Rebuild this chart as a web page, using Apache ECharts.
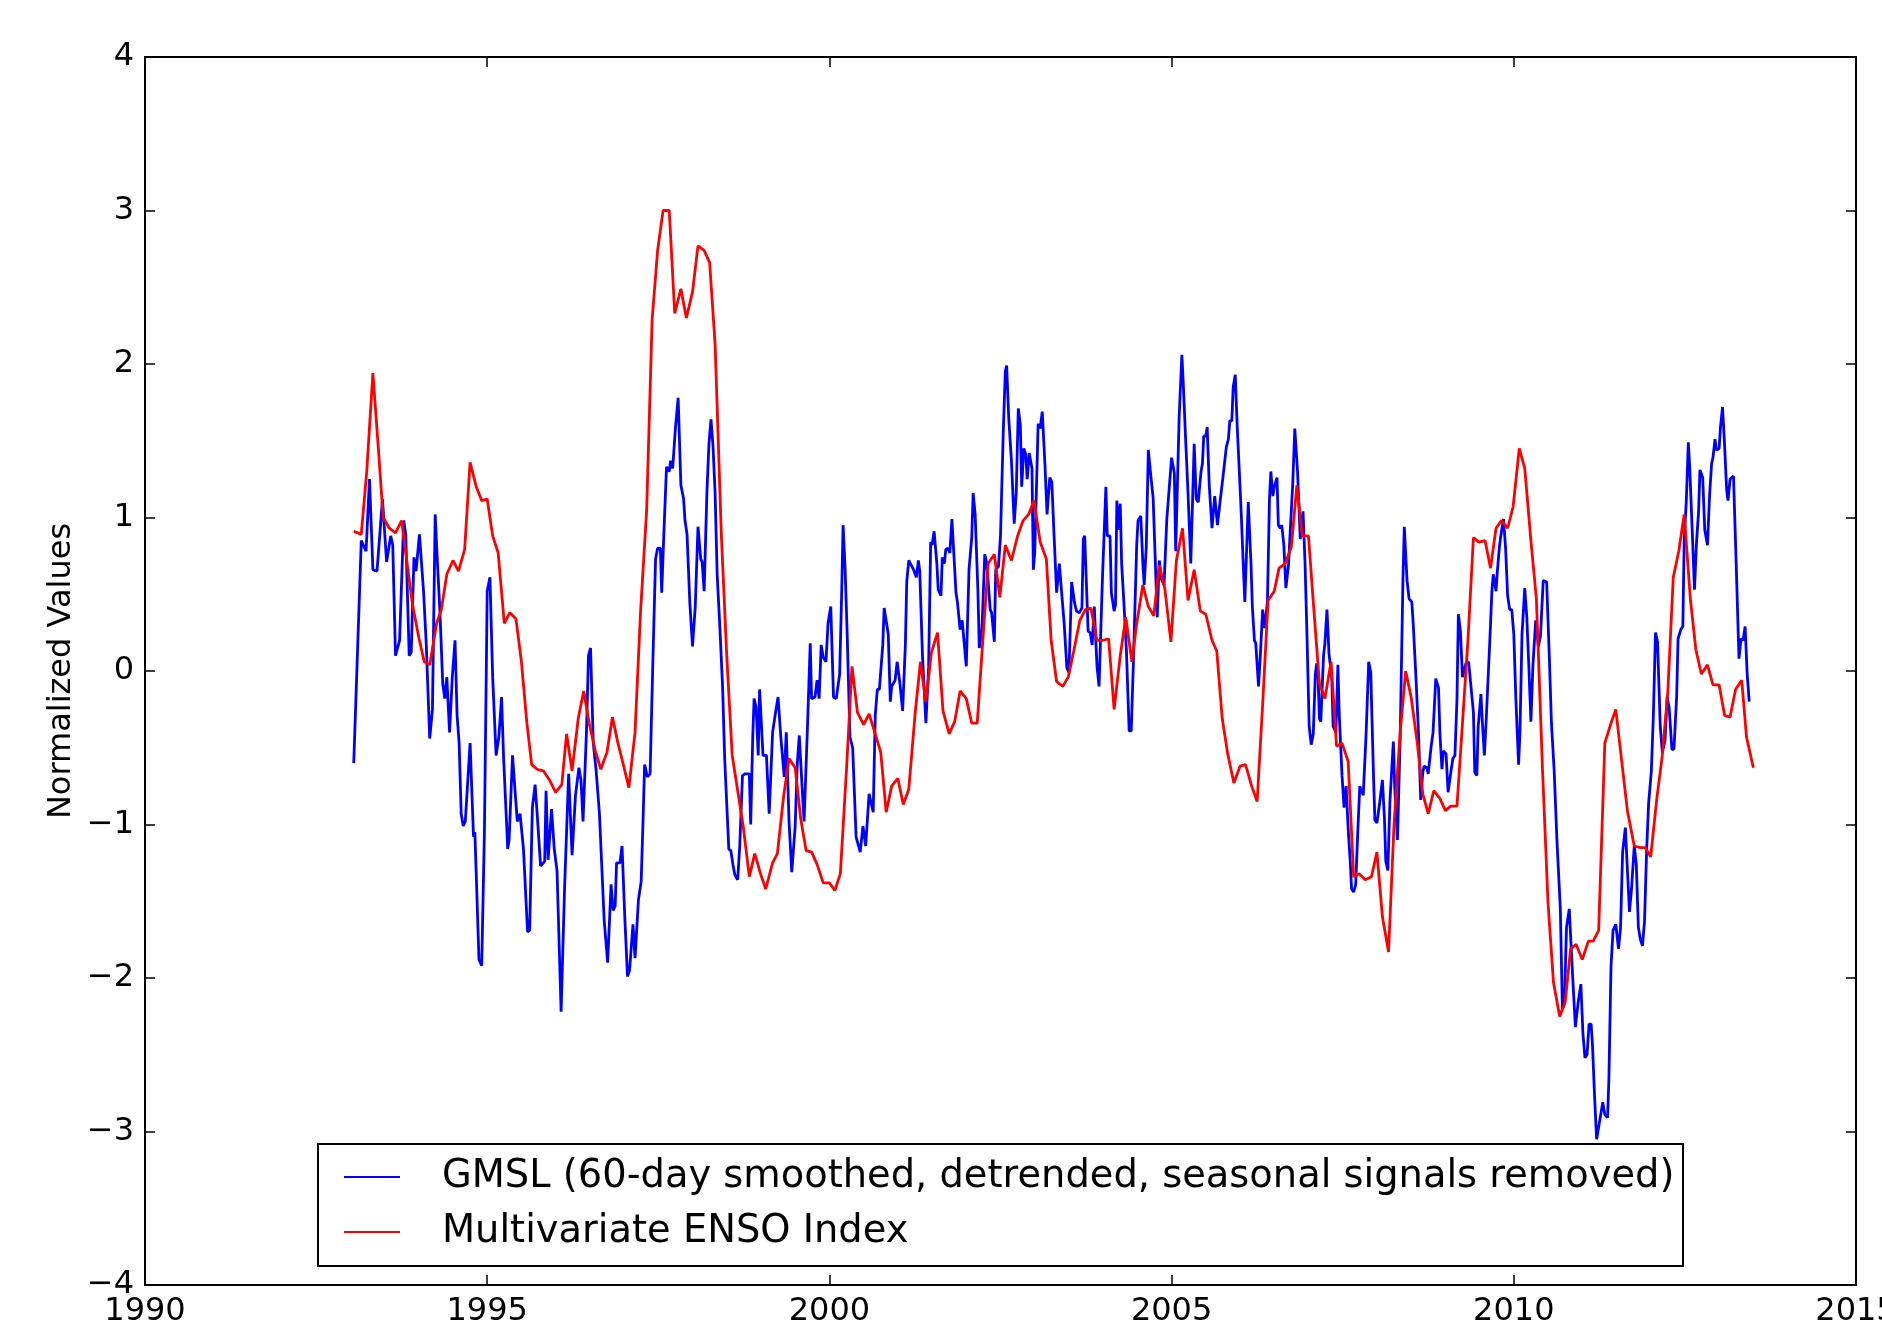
<!DOCTYPE html>
<html>
<head>
<meta charset="utf-8">
<script src="https://cdn.jsdelivr.net/npm/echarts@6/dist/echarts.min.js"></script>
<style>
html,body{margin:0;padding:0;background:#fff;overflow:hidden;width:1882px;height:1340px;}
#chart{width:1882px;height:1340px;position:absolute;left:0;top:0;}
</style>
</head>
<body>
<div id="chart"></div>
<script>
// ---- Data ----
var gmslName = 'GMSL (60-day smoothed, detrended, seasonal signals removed)';
var meiName = 'Multivariate ENSO Index';

var gmslYears = [
1993.05,1993.16,1993.23,1993.28,1993.33,1993.39,1993.47,1993.53,1993.59,1993.62,1993.66,1993.72,1993.78,1993.81,1993.86,1993.89,1993.93,1993.96,
1994.01,1994.07,1994.11,1994.16,1994.20,1994.24,1994.27,1994.31,1994.35,1994.38,1994.41,1994.45,1994.49,1994.53,1994.56,1994.59,1994.62,1994.65,1994.68,1994.75,1994.80,1994.82,1994.88,1994.92,1994.96,
1995.00,1995.04,1995.08,1995.13,1995.17,1995.21,1995.24,1995.30,1995.32,1995.37,1995.41,1995.44,1995.48,1995.53,1995.59,1995.62,1995.66,1995.70,1995.73,1995.78,1995.84,1995.86,1995.89,1995.94,1995.98,
1996.02,1996.08,1996.13,1996.19,1996.24,1996.29,1996.34,1996.37,1996.40,1996.45,1996.48,1996.51,1996.55,1996.59,1996.64,1996.71,1996.76,1996.81,1996.84,1996.87,1996.89,1996.94,1996.97,
1997.01,1997.05,1997.08,1997.13,1997.16,1997.21,1997.25,1997.28,1997.30,1997.34,1997.38,1997.42,1997.46,1997.49,1997.53,1997.55,1997.58,1997.62,1997.66,1997.68,1997.71,1997.75,1997.79,1997.83,1997.87,1997.89,1997.92,1997.96,
1998.00,1998.04,1998.08,1998.12,1998.14,1998.17,1998.21,1998.24,1998.27,1998.30,1998.33,1998.36,1998.40,1998.44,1998.47,1998.53,1998.56,1998.59,1998.62,1998.66,1998.69,1998.73,1998.77,1998.83,1998.85,1998.88,1998.90,1998.93,1998.96,1998.98,
1999.03,1999.08,1999.12,1999.17,1999.22,1999.25,1999.29,1999.34,1999.37,1999.41,1999.45,1999.50,1999.53,1999.56,1999.60,1999.63,1999.68,1999.72,1999.74,1999.79,1999.82,1999.85,1999.88,1999.91,1999.95,1999.98,
2000.02,2000.06,2000.10,2000.15,2000.18,2000.20,2000.23,2000.26,2000.30,2000.34,2000.39,2000.45,2000.49,2000.51,2000.53,2000.58,2000.64,2000.67,2000.70,2000.73,2000.78,2000.80,2000.86,2000.89,2000.91,2000.96,2000.99,
2001.03,2001.07,2001.11,2001.13,2001.16,2001.23,2001.27,2001.30,2001.32,2001.36,2001.41,2001.45,2001.48,2001.50,2001.53,2001.57,2001.59,2001.63,2001.65,2001.68,2001.70,2001.73,2001.76,2001.79,2001.81,2001.85,2001.87,2001.91,2001.94,
2002.00,2002.04,2002.08,2002.10,2002.13,2002.17,2002.19,2002.23,2002.27,2002.30,2002.35,2002.37,2002.41,2002.43,2002.47,2002.50,2002.54,2002.57,2002.59,2002.62,2002.66,2002.70,2002.73,2002.76,2002.79,2002.81,2002.84,2002.87,2002.89,2002.92,2002.96,2002.98,
2003.00,2003.05,2003.08,2003.11,2003.15,2003.18,2003.22,2003.25,2003.28,2003.32,2003.36,2003.39,2003.43,2003.47,2003.50,2003.54,2003.58,2003.61,2003.65,2003.69,2003.71,2003.73,2003.78,2003.81,2003.84,2003.87,2003.91,2003.94,2003.99,
2004.04,2004.06,2004.10,2004.12,2004.16,2004.18,2004.20,2004.22,2004.25,2004.27,2004.30,2004.34,2004.38,2004.41,2004.44,2004.49,2004.51,2004.55,2004.58,2004.60,2004.63,2004.66,2004.69,2004.73,2004.76,2004.79,2004.82,2004.85,2004.89,2004.93,2004.95,
2005.00,2005.04,2005.06,2005.08,2005.11,2005.15,2005.17,2005.20,2005.22,2005.24,2005.28,2005.33,2005.36,2005.39,2005.43,2005.45,2005.47,2005.50,2005.52,2005.55,2005.59,2005.63,2005.67,2005.71,2005.76,2005.80,2005.83,2005.85,2005.88,2005.90,2005.93,2005.96,
2006.00,2006.02,2006.05,2006.07,2006.12,2006.16,2006.18,2006.21,2006.23,2006.27,2006.30,2006.33,2006.36,2006.40,2006.43,2006.45,2006.48,2006.50,2006.54,2006.56,2006.59,2006.61,2006.64,2006.67,2006.71,2006.73,2006.77,2006.80,2006.84,2006.88,2006.92,2006.95,2006.98,
2007.01,2007.04,2007.07,2007.10,2007.12,2007.14,2007.16,2007.18,2007.22,2007.24,2007.27,2007.30,2007.34,2007.36,2007.40,2007.43,2007.45,2007.49,2007.52,2007.55,2007.58,2007.61,2007.63,2007.66,2007.69,2007.72,2007.75,2007.80,2007.84,2007.88,2007.91,2007.95,2007.97,
2008.00,2008.04,2008.08,2008.11,2008.13,2008.16,2008.19,2008.24,2008.26,2008.30,2008.34,2008.38,2008.40,2008.44,2008.47,2008.51,2008.53,2008.57,2008.61,2008.64,2008.67,2008.69,2008.73,2008.75,2008.79,2008.82,2008.86,2008.90,2008.92,2008.95,2008.97,
2009.01,2009.04,2009.08,2009.11,2009.14,2009.17,2009.19,2009.22,2009.25,2009.27,2009.30,2009.34,2009.37,2009.41,2009.43,2009.46,2009.48,2009.52,2009.54,2009.57,2009.60,2009.63,2009.65,2009.68,2009.70,2009.74,2009.76,2009.79,2009.81,2009.85,2009.88,2009.91,2009.94,2009.97,
2010.00,2010.03,2010.07,2010.09,2010.12,2010.16,2010.19,2010.22,2010.25,2010.28,2010.32,2010.36,2010.39,2010.43,2010.48,2010.52,2010.55,2010.59,2010.63,2010.68,2010.71,2010.74,2010.77,2010.81,2010.83,2010.86,2010.90,2010.94,2010.98,
2011.01,2011.04,2011.07,2011.10,2011.13,2011.15,2011.18,2011.21,2011.24,2011.27,2011.30,2011.33,2011.37,2011.39,2011.42,2011.45,2011.49,2011.53,2011.56,2011.59,2011.63,2011.65,2011.69,2011.72,2011.76,2011.79,2011.82,2011.85,2011.88,2011.91,2011.94,2011.97,2011.99,
2012.01,2012.04,2012.07,2012.10,2012.14,2012.17,2012.21,2012.24,2012.27,2012.31,2012.34,2012.38,2012.40,2012.44,2012.47,2012.49,2012.52,2012.55,2012.57,2012.61,2012.64,2012.67,2012.70,2012.72,2012.76,2012.79,2012.83,2012.86,2012.89,2012.91,2012.94,2012.96,
2013.00,2013.02,2013.05,2013.08,2013.11,2013.13,2013.16,2013.21,2013.25,2013.29,2013.32,2013.35,2013.38,2013.41,2013.44
];
var gmslValues = [
-0.60,0.85,0.78,1.25,0.66,0.65,1.12,0.71,0.88,0.82,0.10,0.20,0.98,0.89,0.10,0.12,0.74,0.65,
0.89,0.52,0.17,-0.44,-0.25,1.02,0.73,0.38,-0.08,-0.18,-0.04,-0.40,-0.04,0.20,-0.29,-0.47,-0.93,-1.01,-0.98,-0.47,-1.08,-1.05,-1.88,-1.92,-1.03,
0.52,0.61,-0.04,-0.55,-0.43,-0.17,-0.57,-1.16,-1.10,-0.55,-0.80,-0.98,-0.93,-1.16,-1.70,-1.69,-0.89,-0.74,-0.93,-1.27,-1.24,-0.78,-1.23,-0.90,-1.16,
-1.30,-2.22,-1.42,-0.67,-1.20,-0.81,-0.63,-0.71,-0.98,-0.40,0.10,0.15,-0.47,-0.64,-0.93,-1.63,-1.90,-1.39,-1.56,-1.53,-1.25,-1.25,-1.14,
-1.60,-1.99,-1.95,-1.65,-1.87,-1.49,-1.37,-0.93,-0.61,-0.69,-0.67,0.05,0.73,0.80,0.80,0.51,0.88,1.33,1.30,1.37,1.32,1.58,1.78,1.21,1.12,0.98,0.89,0.45,
0.16,0.42,0.94,0.73,0.71,0.52,1.16,1.48,1.64,1.46,1.16,0.63,0.28,-0.11,-0.57,-1.16,-1.17,-1.26,-1.33,-1.36,-1.14,-0.68,-0.67,-0.67,-1.00,-0.43,-0.18,-0.24,-0.55,-0.12,
-0.55,-0.55,-0.93,-0.40,-0.25,-0.17,-0.43,-0.69,-0.40,-0.98,-1.31,-1.01,-0.61,-0.42,-0.75,-0.98,-0.36,0.18,-0.18,-0.17,-0.06,-0.18,0.17,0.09,0.06,0.31,
0.42,-0.17,-0.18,-0.02,0.52,0.95,0.66,0.24,-0.43,-0.50,-1.08,-1.18,-1.01,-1.01,-1.14,-0.80,-0.92,-0.29,-0.12,-0.12,0.17,0.41,0.24,-0.20,-0.10,-0.06,0.06,
-0.08,-0.26,0.17,0.58,0.72,0.66,0.61,0.72,0.65,0.10,-0.34,0.03,0.84,0.82,0.91,0.70,0.53,0.49,0.74,0.70,0.79,0.80,0.77,0.99,1.00,0.51,0.45,0.27,0.33,
0.03,0.66,0.87,1.16,1.02,0.52,0.15,0.28,0.76,0.70,0.40,0.38,0.19,0.66,0.68,0.88,1.55,1.95,1.99,1.65,1.37,0.96,1.16,1.71,1.60,1.20,1.45,1.41,1.25,1.42,1.32,0.66,
0.77,1.61,1.58,1.69,1.34,1.02,1.26,1.23,0.91,0.51,0.70,0.53,0.31,0.02,-0.01,0.58,0.45,0.39,0.38,0.41,0.86,0.88,0.26,0.25,0.17,0.42,0.03,-0.10,0.61,
1.20,0.88,0.88,0.51,0.39,0.43,1.11,0.92,1.09,0.70,0.47,0.13,-0.39,-0.39,0.03,0.82,0.98,1.01,0.70,0.56,0.81,1.44,1.30,1.13,0.74,0.35,0.72,0.60,0.56,0.99,1.00,
1.39,1.29,0.78,0.78,1.65,2.06,1.88,1.56,1.56,1.16,0.70,1.48,1.12,1.10,1.30,1.35,1.53,1.53,1.59,1.21,0.93,1.14,0.95,1.11,1.30,1.46,1.51,1.63,1.63,1.85,1.93,1.58,
1.20,1.00,0.66,0.45,1.10,0.70,0.42,0.20,0.18,-0.10,0.13,0.40,0.28,0.45,1.12,1.30,1.14,1.20,1.26,0.95,0.93,0.95,0.82,0.54,0.70,0.88,1.22,1.58,1.30,0.86,1.04,0.70,0.20,
-0.36,-0.48,-0.41,-0.02,0.05,-0.04,-0.31,-0.33,0.10,0.18,0.40,0.11,-0.04,-0.36,-0.40,0.04,-0.29,-0.68,-0.89,-0.75,-1.03,-1.24,-1.42,-1.44,-1.39,-1.05,-0.75,-0.81,-0.43,0.06,-0.01,-0.68,-0.97,
-0.99,-0.86,-0.71,-0.96,-1.24,-1.30,-0.85,-0.46,-0.75,-1.10,-0.43,0.59,0.94,0.59,0.47,0.45,0.31,-0.04,-0.43,-0.84,-0.66,-0.62,-0.63,-0.67,-0.50,-0.40,-0.05,-0.11,-0.40,-0.64,-0.52,
-0.54,-0.79,-0.66,-0.57,-0.55,-0.18,0.37,0.26,-0.04,-0.04,0.05,0.06,-0.08,-0.27,-0.66,-0.68,-0.36,-0.15,-0.33,-0.55,-0.29,0.01,0.20,0.52,0.63,0.52,0.65,0.81,0.88,0.99,0.80,0.49,0.40,0.40,
0.24,-0.18,-0.61,-0.40,0.24,0.54,0.35,0.03,-0.33,0.04,0.33,0.16,0.23,0.59,0.58,0.08,-0.34,-0.65,-1.10,-1.55,-2.20,-2.16,-1.67,-1.55,-1.56,-1.99,-2.32,-2.16,-2.04,
-2.36,-2.52,-2.50,-2.30,-2.30,-2.44,-2.77,-3.05,-2.97,-2.89,-2.81,-2.89,-2.91,-2.65,-1.93,-1.69,-1.65,-1.81,-1.67,-1.18,-1.02,-1.03,-1.57,-1.42,-1.14,-1.26,-1.67,-1.75,-1.79,-1.63,-1.18,-0.86,-0.86,
-0.65,-0.28,0.25,0.19,-0.36,-0.53,-0.45,-0.17,-0.24,-0.51,-0.51,-0.16,0.21,0.27,0.29,0.86,1.10,1.49,1.33,0.88,0.53,0.84,1.04,1.31,1.26,0.92,0.82,1.14,1.35,1.39,1.51,1.44,
1.45,1.59,1.72,1.47,1.18,1.11,1.25,1.27,0.69,0.08,0.21,0.20,0.29,-0.02,-0.20
];

var meiYears = [
1993.05,1993.16,1993.24,1993.33,1993.40,1993.48,1993.57,1993.66,1993.75,1993.83,1993.91,
1994.00,1994.08,1994.16,1994.26,1994.33,1994.41,1994.50,1994.58,1994.67,1994.75,1994.84,1994.92,
1995.00,1995.08,1995.16,1995.25,1995.33,1995.42,1995.50,1995.58,1995.65,1995.73,1995.82,1995.91,
1996.00,1996.09,1996.16,1996.24,1996.33,1996.41,1996.49,1996.58,1996.66,1996.75,1996.83,1996.91,
1997.00,1997.07,1997.16,1997.24,1997.33,1997.41,1997.49,1997.57,1997.66,1997.74,1997.83,1997.91,
1998.00,1998.08,1998.17,1998.25,1998.33,1998.42,1998.50,1998.58,1998.66,1998.74,1998.83,1998.91,
1999.00,1999.07,1999.17,1999.24,1999.33,1999.41,1999.50,1999.58,1999.66,1999.74,1999.82,1999.91,
2000.00,2000.08,2000.16,2000.25,2000.33,2000.41,2000.50,2000.58,2000.67,2000.75,2000.83,2000.91,
2001.00,2001.08,2001.16,2001.25,2001.33,2001.41,2001.49,2001.58,2001.66,2001.75,2001.83,2001.91,
2002.00,2002.08,2002.16,2002.24,2002.32,2002.41,2002.49,2002.57,2002.66,2002.75,2002.83,2002.91,
2002.99,2003.08,2003.17,2003.24,2003.32,2003.41,2003.49,2003.57,2003.66,2003.74,2003.82,2003.91,
2003.99,2004.08,2004.16,2004.25,2004.33,2004.42,2004.49,2004.58,2004.66,2004.74,2004.82,2004.90,
2004.99,2005.07,2005.16,2005.24,2005.33,2005.42,2005.50,2005.59,2005.66,2005.74,2005.82,2005.91,
2006.00,2006.08,2006.17,2006.25,2006.33,2006.41,2006.50,2006.57,2006.66,2006.75,2006.83,2006.91,
2007.00,2007.07,2007.16,2007.24,2007.33,2007.41,2007.49,2007.58,2007.66,2007.74,2007.83,2007.92,
2008.00,2008.08,2008.17,2008.25,2008.34,2008.42,2008.50,2008.59,2008.67,2008.75,2008.83,2008.92,
2009.00,2009.08,2009.17,2009.25,2009.33,2009.41,2009.49,2009.58,2009.66,2009.74,2009.82,2009.91,
2009.99,2010.08,2010.16,2010.25,2010.33,2010.42,2010.50,2010.58,2010.67,2010.75,2010.83,2010.91,
2011.00,2011.09,2011.16,2011.24,2011.33,2011.42,2011.49,2011.58,2011.66,2011.76,2011.84,2011.92,
2012.00,2012.09,2012.17,2012.25,2012.33,2012.41,2012.49,2012.58,2012.66,2012.74,2012.83,2012.91,
2013.00,2013.08,2013.16,2013.24,2013.33,2013.40,2013.50
];
var meiValues = [
0.91,0.89,1.30,1.94,1.51,1.00,0.93,0.90,0.98,0.70,0.43,
0.22,0.06,0.04,0.31,0.40,0.63,0.72,0.65,0.79,1.36,1.20,1.11,
1.12,0.88,0.77,0.31,0.38,0.34,0.06,-0.34,-0.61,-0.64,-0.65,-0.71,
-0.79,-0.74,-0.41,-0.65,-0.31,-0.13,-0.34,-0.52,-0.64,-0.53,-0.30,-0.47,
-0.63,-0.76,-0.40,0.38,1.05,2.29,2.74,3.00,3.00,2.33,2.49,2.30,
2.47,2.77,2.74,2.66,2.13,0.90,0.10,-0.55,-0.78,-1.01,-1.34,-1.19,
-1.33,-1.42,-1.25,-1.19,-0.82,-0.57,-0.63,-0.96,-1.17,-1.18,-1.26,-1.38,
-1.38,-1.43,-1.32,-0.64,0.03,-0.27,-0.35,-0.28,-0.41,-0.53,-0.92,-0.75,
-0.70,-0.87,-0.77,-0.29,0.06,-0.20,0.12,0.25,-0.26,-0.41,-0.33,-0.13,
-0.18,-0.34,-0.34,0.19,0.70,0.76,0.48,0.82,0.72,0.88,0.98,1.02,
1.11,0.84,0.73,0.20,-0.07,-0.10,-0.04,0.13,0.33,0.40,0.41,0.20,
0.20,0.21,-0.25,0.10,0.35,0.06,0.31,0.56,0.42,0.36,0.69,0.54,
0.19,0.72,0.93,0.46,0.66,0.39,0.37,0.20,0.13,-0.31,-0.54,-0.73,
-0.62,-0.61,-0.75,-0.85,-0.22,0.46,0.52,0.67,0.70,0.81,1.21,0.88,
0.88,0.45,-0.08,-0.18,0.06,-0.49,-0.47,-0.59,-1.34,-1.32,-1.36,-1.34,
-1.18,-1.60,-1.83,-1.00,-0.40,0.00,-0.17,-0.47,-0.80,-0.93,-0.78,-0.83,
-0.91,-0.88,-0.88,-0.34,0.20,0.87,0.84,0.85,0.67,0.93,0.98,0.93,
1.07,1.45,1.32,0.85,0.47,-0.65,-1.51,-2.03,-2.25,-2.16,-1.81,-1.78,
-1.88,-1.76,-1.76,-1.69,-0.47,-0.34,-0.25,-0.60,-0.91,-1.14,-1.15,-1.15,
-1.21,-0.83,-0.55,-0.14,0.61,0.78,1.02,0.47,0.14,-0.02,0.04,-0.09,
-0.09,-0.29,-0.30,-0.12,-0.06,-0.43,-0.63
];

var xMin = 1990, xMax = 2015, xStep = 5;
var yMin = -4, yMax = 4, yStep = 1;
var yAxisTitle = 'Normalized Values';

function zip(xs, ys) { var out = []; for (var i = 0; i < xs.length; i++) out.push([xs[i], ys[i]]); return out; }
function fmtNum(v) { return v < 0 ? '\u2212' + Math.abs(v) : String(v); }

var FONT = 'DejaVu Sans';
var chart = echarts.init(document.getElementById('chart'), null, { renderer: 'canvas', width: 1882, height: 1340 });

var tickStyle = { show: true, inside: true, length: 10, lineStyle: { color: '#000', width: 1.5 } };
var lineStyleAxis = { show: true, onZero: false, lineStyle: { color: '#000', width: 2 } };

chart.setOption({
  animation: false,
  backgroundColor: '#fff',
  grid: { left: 145, right: 26, top: 57, bottom: 55, containLabel: false, outerBoundsMode: 'none' },
  xAxis: [
    { type: 'value', min: xMin, max: xMax, interval: xStep, position: 'bottom',
      axisLine: lineStyleAxis, axisTick: tickStyle, splitLine: { show: false },
      axisLabel: { show: true, margin: 11, color: '#000', fontFamily: FONT, fontSize: 32, hideOverlap: false,
        formatter: function (v) { return String(v); } } },
    { type: 'value', min: xMin, max: xMax, interval: xStep, position: 'top',
      axisLine: lineStyleAxis, axisTick: tickStyle, splitLine: { show: false }, axisLabel: { show: false } }
  ],
  yAxis: [
    { type: 'value', min: yMin, max: yMax, interval: yStep, position: 'left',
      name: yAxisTitle, nameLocation: 'middle', nameGap: 67, nameRotate: 90, nameMoveOverlap: false,
      nameTextStyle: { color: '#000', fontFamily: FONT, fontSize: 32 },
      axisLine: lineStyleAxis, axisTick: tickStyle, splitLine: { show: false },
      axisLabel: { show: true, margin: 11, color: '#000', fontFamily: FONT, fontSize: 32, formatter: fmtNum } },
    { type: 'value', min: yMin, max: yMax, interval: yStep, position: 'right',
      axisLine: lineStyleAxis, axisTick: tickStyle, splitLine: { show: false }, axisLabel: { show: false } }
  ],
  legend: {
    show: true, orient: 'vertical', left: 344, top: 1155, z: 200,
    itemWidth: 56, itemHeight: 14, itemGap: 11, padding: 0,
    icon: 'path://M0,6 L56,6 L56,8 L0,8 Z',
    textStyle: { color: '#000', fontFamily: FONT, fontSize: 38.4, lineHeight: 44, padding: [0, 0, 0, 37] },
    data: [ { name: gmslName, itemStyle: { color: '#0000ff' } }, { name: meiName, itemStyle: { color: '#ff0000' } } ]
  },
  graphic: [
    { type: 'rect', z: 150, shape: { x: 318, y: 1144, width: 1365, height: 122 },
      style: { fill: '#fff', stroke: '#000', lineWidth: 2 } }
  ],
  series: [
    { name: gmslName, type: 'line', xAxisIndex: 0, yAxisIndex: 0, data: zip(gmslYears, gmslValues),
      showSymbol: false, symbol: 'none', smooth: false, z: 3,
      lineStyle: { color: '#0000ff', width: 2.8 }, itemStyle: { color: '#0000ff' } },
    { name: meiName, type: 'line', xAxisIndex: 0, yAxisIndex: 0, data: zip(meiYears, meiValues),
      showSymbol: false, symbol: 'none', smooth: false, z: 4,
      lineStyle: { color: '#ff0000', width: 2.8 }, itemStyle: { color: '#ff0000' } }
  ]
});
</script>
</body>
</html>
